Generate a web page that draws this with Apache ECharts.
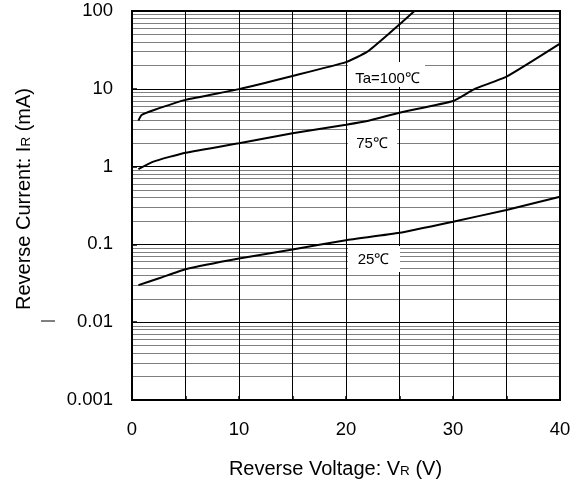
<!DOCTYPE html>
<html>
<head>
<meta charset="utf-8">
<script src="https://cdn.jsdelivr.net/npm/echarts@6/dist/echarts.min.js"></script>
<style>
html,body{margin:0;padding:0;background:#fff;}
#chart{width:582px;height:496px;}
</style>
</head>
<body>
<div id="chart"></div>
<script>
// Reverse voltage (V) vs reverse current (mA)
var curve100 = [[0.6,3.9],[0.9,4.6],[2,5.3],[5,7.2],[10,9.9],[15,14.6],[20,22],[22,30],[24,51],[26.4,100]];
var curve75 = [[0.6,0.93],[2,1.16],[5,1.51],[10,2.0],[15,2.68],[20,3.45],[22,3.85],[25,4.93],[30,6.97],[32,9.9],[35,14.3],[40,38]];
var curve25 = [[0.6,0.030],[2.6,0.037],[5,0.048],[10,0.066],[15,0.086],[20,0.113],[25,0.141],[30,0.196],[35,0.277],[40,0.41]];
var xTickLabels = ['0','10','20','30','40'];
var yTickLabels = ['0.001','0.01','0.1','1','10','100'];
var decades = [0.001,0.01,0.1,1,10];
var minorSteps = [2,3,4,5,6,7,8,9];
var curveLabels = ['Ta=100℃','75℃','25℃'];

var FONT = "'Liberation Sans', Arial, Helvetica, sans-serif";
var minorLines = [];
decades.forEach(function(d){ minorSteps.forEach(function(s){
  var v = +(d*s).toPrecision(3);
  minorLines.push({coords:[[0, v],[40, v]]});
}); });

var chart = echarts.init(document.getElementById('chart'));
function curveSeries(name, data){
  return {name:name, type:'line', data:data, showSymbol:false, symbol:'none', smooth:0.15, z:3,
    lineStyle:{color:'#000', width:2}, silent:true, animation:false, clip:true};
}
var titleRich = {
  a:{fontSize:20, fontFamily:FONT, color:'#000'},
  s:{fontSize:13.5, fontFamily:FONT, color:'#000', padding:[5,0,0,0]}
};
var option = {
  animation:false,
  backgroundColor:'#fff',
  grid:{left:132, right:22, top:11, bottom:96, show:true, borderColor:'#000', borderWidth:2, backgroundColor:'transparent'},
  xAxis:{type:'value', min:0, max:40, interval:5,
    name:'{a|Reverse Voltage: V}{s|R}{a| (V)}', nameLocation:'middle', nameGap:59,
    nameTextStyle:{padding:[0,21,0,0], rich:titleRich},
    axisLine:{show:true, lineStyle:{color:'#000', width:2}},
    axisTick:{show:true, inside:true, length:4, lineStyle:{color:'#000', width:1.5}},
    axisLabel:{margin:20, fontSize:18.5, color:'#000', fontFamily:FONT,
      formatter:function(v){ return v % 10 === 0 ? xTickLabels[v/10] : ''; }},
    splitLine:{show:true, lineStyle:{color:'#000', width:1}}
  },
  yAxis:{type:'log', logBase:10, min:0.001, max:100, splitNumber:5,
    name:'{a|Reverse Current: I}{s|R}{a| (mA)}', nameLocation:'middle', nameGap:98,
    nameTextStyle:{padding:[0,0,0,13], rich:titleRich},
    axisLine:{show:true, lineStyle:{color:'#000', width:2}},
    axisTick:{show:true, inside:true, length:5, lineStyle:{color:'#000', width:1.5}},
    axisLabel:{margin:19, fontSize:18.5, color:'#000', fontFamily:FONT,
      formatter:function(v){ var i = Math.round(Math.log10(v)) + 3; return yTickLabels[i] || ''; }},
    splitLine:{show:true, lineStyle:{color:'#000', width:1}}
  },
  series:[
    {type:'lines', coordinateSystem:'cartesian2d', data:minorLines, z:1, silent:true,
      lineStyle:{color:'#000', width:1}},
    curveSeries('100', curve100),
    curveSeries('75', curve75),
    curveSeries('25', curve25)
  ],
  graphic:[
    {type:'rect', z:2, shape:{x:348, y:62, width:77, height:25}, style:{fill:'#fff'}},
    {type:'rect', z:2, shape:{x:348, y:123, width:49, height:36}, style:{fill:'#fff'}},
    {type:'rect', z:2, shape:{x:348, y:246, width:52, height:26}, style:{fill:'#fff'}},
    {type:'text', z:4, x:387.5, y:79, style:{text:curveLabels[0], fill:'#000', font:'15px '+FONT, align:'center', verticalAlign:'middle'}},
    {type:'text', z:4, x:372, y:144, style:{text:curveLabels[1], fill:'#000', font:'15px '+FONT, align:'center', verticalAlign:'middle'}},
    {type:'text', z:4, x:373.5, y:259.5, style:{text:curveLabels[2], fill:'#000', font:'15px '+FONT, align:'center', verticalAlign:'middle'}},
    {type:'line', z:4, shape:{x1:41, y1:321, x2:55, y2:321}, style:{stroke:'#000', lineWidth:1}}
  ]
};
chart.setOption(option);
</script>
</body>
</html>
